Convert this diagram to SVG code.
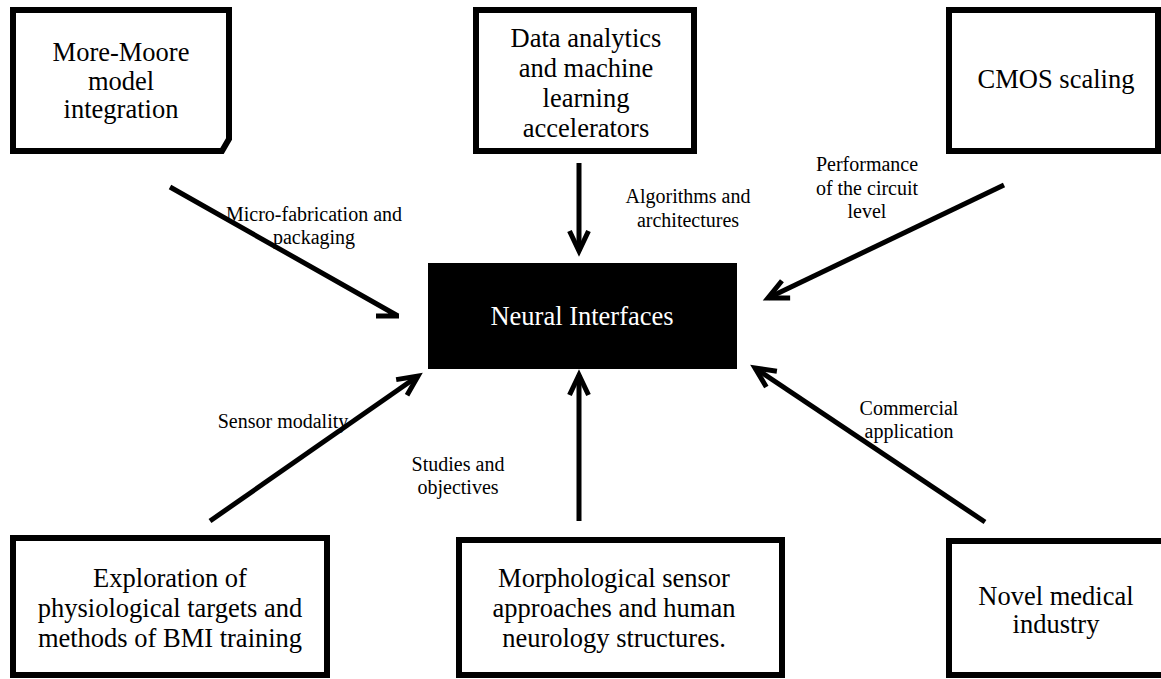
<svg xmlns="http://www.w3.org/2000/svg" width="1161" height="679" viewBox="0 0 1161 679">
  <style>
    .box { fill: #fff; stroke: #000; stroke-width: 6; }
    .core { fill: #000; }
    .t { font-family: "Liberation Serif", "Times New Roman", serif; font-size: 26.5px; fill: #000; text-anchor: middle; }
    .tw { font-family: "Liberation Serif", "Times New Roman", serif; font-size: 26.5px; fill: #fff; text-anchor: middle; }
    .lbl { font-family: "Liberation Serif", "Times New Roman", serif; font-size: 20px; fill: #000; text-anchor: middle; }
    .wire { fill: none; stroke: #000; stroke-width: 5; }
  </style>
  <defs>
    <marker id="chev" markerUnits="userSpaceOnUse" markerWidth="30" markerHeight="30" refX="0" refY="0" orient="auto" overflow="visible">
      <path d="M-20,-9.5 L0,0 L-20,9.5" fill="none" stroke="#000" stroke-width="5" stroke-linejoin="miter"/>
    </marker>
  </defs>
  <rect width="1161" height="679" fill="#fff"/>

  <!-- connectors -->
  <g id="connectors">
    <path class="wire" d="M170,187 L398,316 M376,316 L399,316"/>
    <line class="wire" x1="579" y1="163" x2="579" y2="251" marker-end="url(#chev)"/>
    <line class="wire" x1="1004" y1="185" x2="768" y2="298" marker-end="url(#chev)"/>
    <line class="wire" x1="210" y1="521" x2="418" y2="376" marker-end="url(#chev)"/>
    <line class="wire" x1="579" y1="521" x2="579" y2="375" marker-end="url(#chev)"/>
    <line class="wire" x1="985" y1="522" x2="755" y2="368" marker-end="url(#chev)"/>
  </g>

  <!-- connector labels -->
  <g id="labels">
    <text class="lbl" x="314" y="221">Micro-fabrication and</text>
    <text class="lbl" x="314" y="244">packaging</text>
    <text class="lbl" x="688" y="203">Algorithms and</text>
    <text class="lbl" x="688" y="227">architectures</text>
    <text class="lbl" x="867" y="171">Performance</text>
    <text class="lbl" x="867" y="195">of the circuit</text>
    <text class="lbl" x="867" y="218">level</text>
    <text class="lbl" x="283" y="428">Sensor modality</text>
    <text class="lbl" x="458" y="471">Studies and</text>
    <text class="lbl" x="458" y="494">objectives</text>
    <text class="lbl" x="909" y="415">Commercial</text>
    <text class="lbl" x="909" y="438">application</text>
  </g>

  <g id="node-more-moore">
    <path class="box" d="M13,10 H229 V139 L222,151 H13 Z"/>
    <text class="t" x="121" y="61">More-Moore</text>
    <text class="t" x="121" y="90">model</text>
    <text class="t" x="121" y="118">integration</text>
  </g>

  <g id="node-data-analytics">
    <rect class="box" x="476" y="10" width="218" height="141"/>
    <text class="t" x="586" y="47">Data analytics</text>
    <text class="t" x="586" y="77">and machine</text>
    <text class="t" x="586" y="107">learning</text>
    <text class="t" x="586" y="137">accelerators</text>
  </g>

  <g id="node-cmos">
    <rect class="box" x="949" y="10" width="209" height="141"/>
    <text class="t" x="1056" y="88">CMOS scaling</text>
  </g>

  <g id="node-neural-interfaces">
    <rect class="core" x="428" y="263" width="309" height="106"/>
    <text class="tw" x="582" y="325">Neural Interfaces</text>
  </g>

  <g id="node-exploration">
    <rect class="box" x="13" y="538" width="314" height="137"/>
    <text class="t" x="170" y="587">Exploration of</text>
    <text class="t" x="170" y="617">physiological targets and</text>
    <text class="t" x="170" y="647">methods of BMI training</text>
  </g>

  <g id="node-morphological">
    <rect class="box" x="459" y="540" width="323" height="135"/>
    <text class="t" x="614" y="587">Morphological sensor</text>
    <text class="t" x="614" y="617">approaches and human</text>
    <text class="t" x="614" y="647">neurology structures.</text>
  </g>

  <g id="node-medical">
    <rect class="box" x="949" y="541" width="230" height="134"/>
    <text class="t" x="1056" y="605">Novel medical</text>
    <text class="t" x="1056" y="633">industry</text>
  </g>
</svg>
